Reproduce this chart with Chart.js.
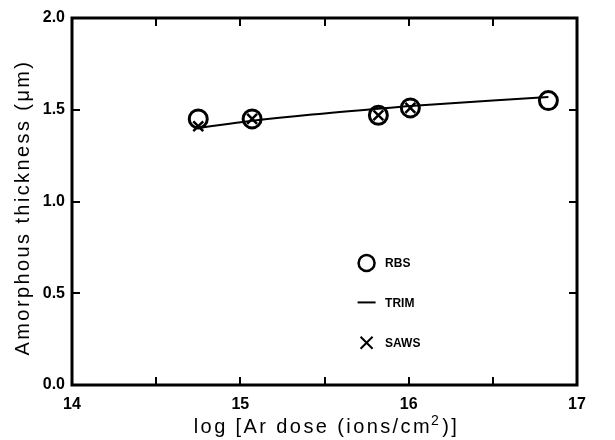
<!DOCTYPE html>
<html>
<head>
<meta charset="utf-8">
<script src="https://cdn.jsdelivr.net/npm/chart.js@4.4.1/dist/chart.umd.min.js"></script>
<style>
html,body{margin:0;padding:0;background:#fff;}
#wrap{width:615px;height:440px;}
</style>
</head>
<body>
<div id="wrap"><canvas id="c" width="615" height="440"></canvas></div>
<script>
// Data (log dose, thickness in µm)
const rbsX = [14.75, 15.07, 15.82, 16.01, 16.83];
const rbsY = [1.45, 1.45, 1.47, 1.51, 1.55];
const sawsX = [14.75, 15.07, 15.82, 16.01];
const sawsY = [1.41, 1.45, 1.47, 1.51];
const trimX = [14.75, 15.07, 15.5, 15.82, 16.01, 16.5, 16.83];
const trimY = [1.40, 1.44, 1.48, 1.505, 1.52, 1.55, 1.57];
const xTicks = [14, 15, 16, 17];
const yTicks = [0.0, 0.5, 1.0, 1.5, 2.0];
const legendItems = ['RBS', 'TRIM', 'SAWS'];
const xTitleParts = ['log [Ar dose (ions/cm', '2', ')]'];
const yTitle = 'Amorphous thickness (μm)';

const pts = (xs, ys) => xs.map((x, i) => ({x: x, y: ys[i]}));

const framePlugin = {
  id: 'frame',
  afterDraw(chart) {
    const {ctx, chartArea: a, scales} = chart;
    const xs = scales.x, ys = scales.y;
    ctx.save();
    ctx.strokeStyle = '#000';
    // inward ticks
    ctx.lineWidth = 2;
    const tl = 8;
    for (let v = 14.5; v < 17; v += 0.5) {
      const px = Math.round(xs.getPixelForValue(v));
      ctx.beginPath();
      ctx.moveTo(px, a.bottom); ctx.lineTo(px, a.bottom - tl);
      ctx.moveTo(px, a.top); ctx.lineTo(px, a.top + tl);
      ctx.stroke();
    }
    for (let v = 0.5; v < 2; v += 0.5) {
      const py = Math.round(ys.getPixelForValue(v));
      ctx.beginPath();
      ctx.moveTo(a.left, py); ctx.lineTo(a.left + tl, py);
      ctx.moveTo(a.right, py); ctx.lineTo(a.right - tl, py);
      ctx.stroke();
    }
    // frame
    ctx.lineWidth = 3;
    ctx.strokeRect(a.left, a.top, a.right - a.left, a.bottom - a.top);

    // axis titles (letter-spaced, like the original)
    ctx.fillStyle = '#000';
    const big = '20px "Liberation Sans", Arial, sans-serif';
    const small = '14px "Liberation Sans", Arial, sans-serif';
    ctx.letterSpacing = '2.4px';
    ctx.textBaseline = 'alphabetic';
    ctx.textAlign = 'left';
    ctx.font = big;
    const w0 = ctx.measureText(xTitleParts[0]).width;
    const w2 = ctx.measureText(xTitleParts[2]).width;
    ctx.font = small;
    const w1 = ctx.measureText(xTitleParts[1]).width;
    let x0 = (a.left + a.right) / 2 + 2 - (w0 + w1 + w2) / 2;
    const base = 433;
    ctx.font = big;
    ctx.fillText(xTitleParts[0], x0, base);
    ctx.font = small;
    ctx.fillText(xTitleParts[1], x0 + w0 - 1, base - 8);
    ctx.font = big;
    ctx.fillText(xTitleParts[2], x0 + w0 + w1, base);

    ctx.textAlign = 'center';
    ctx.textBaseline = 'middle';
    ctx.save();
    ctx.translate(23, (a.top + a.bottom) / 2 + 6);
    ctx.rotate(-Math.PI / 2);
    ctx.fillText(yTitle, 0, 0);
    ctx.restore();
    ctx.letterSpacing = '0px';

    // legend
    const lx = xs.getPixelForValue(15.75);
    const tx = xs.getPixelForValue(15.86);
    const ly = [0.665, 0.45, 0.23].map(v => ys.getPixelForValue(v));
    ctx.font = 'bold 12px "Liberation Sans Narrow", "Liberation Sans", Arial, sans-serif';
    ctx.textBaseline = 'middle';
    ctx.textAlign = 'left';
    ctx.lineWidth = 2.5;
    ctx.beginPath(); ctx.arc(lx, ly[0], 8, 0, Math.PI * 2); ctx.stroke();
    ctx.lineWidth = 2;
    ctx.beginPath(); ctx.moveTo(lx - 9, ly[1]); ctx.lineTo(lx + 9, ly[1]); ctx.stroke();
    ctx.beginPath();
    ctx.moveTo(lx - 6, ly[2] - 6); ctx.lineTo(lx + 6, ly[2] + 6);
    ctx.moveTo(lx + 6, ly[2] - 6); ctx.lineTo(lx - 6, ly[2] + 6);
    ctx.stroke();
    legendItems.forEach((t, i) => ctx.fillText(t, tx, ly[i] + 1));
    ctx.restore();
  }
};

new Chart(document.getElementById('c'), {
  type: 'scatter',
  data: {
    datasets: [
      {
        label: 'TRIM', type: 'line', data: pts(trimX, trimY),
        borderColor: '#000', borderWidth: 2, pointRadius: 0, tension: 0.4,
        fill: false, order: 3
      },
      {
        label: 'RBS', data: pts(rbsX, rbsY), pointStyle: 'circle',
        pointRadius: 9, pointBorderWidth: 3, borderColor: '#000',
        backgroundColor: 'rgba(0,0,0,0)', pointBackgroundColor: 'rgba(0,0,0,0)', order: 1
      },
      {
        label: 'SAWS', data: pts(sawsX, sawsY), pointStyle: 'crossRot',
        pointRadius: 7, pointBorderWidth: 2.5, borderColor: '#000', order: 2
      }
    ]
  },
  options: {
    responsive: false,
    animation: false,
    layout: {padding: {top: 18, right: 38, left: 0, bottom: 0}},
    plugins: {legend: {display: false}, tooltip: {enabled: false}},
    scales: {
      x: {
        type: 'linear', min: 14, max: 17,
        afterBuildTicks(s) { s.ticks = xTicks.map(v => ({value: v})); },
        afterFit(s) { s.height = 55; },
        grid: {display: false, drawTicks: false},
        border: {display: false},
        ticks: {
          color: '#000', padding: 10, maxRotation: 0,
          font: {family: '"Liberation Sans", Arial, sans-serif', size: 16, weight: 'bold'},
          callback: v => String(v)
        },
        title: {display: false}
      },
      y: {
        type: 'linear', min: 0, max: 2,
        afterBuildTicks(s) { s.ticks = yTicks.map(v => ({value: v})); },
        afterFit(s) { s.width = 72; },
        grid: {display: false, drawTicks: false},
        border: {display: false},
        ticks: {
          color: '#000', padding: 7,
          font: {family: '"Liberation Sans", Arial, sans-serif', size: 16, weight: 'bold'},
          callback: v => Number(v).toFixed(1)
        },
        title: {display: false}
      }
    }
  },
  plugins: [framePlugin]
});
</script>
</body>
</html>
